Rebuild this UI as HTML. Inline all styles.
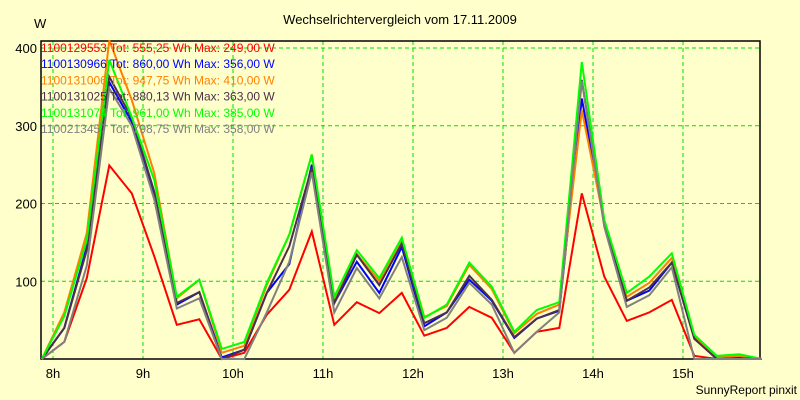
<!DOCTYPE html>
<html><head><meta charset="utf-8"><style>
html,body{margin:0;padding:0;background:#ffffcc;}
svg{display:block;font-family:"Liberation Sans",sans-serif;}
</style></head><body>
<svg id="chart" width="800" height="400" viewBox="0 0 800 400">
<rect x="0" y="0" width="800" height="400" fill="#ffffcc"/>
<text x="400" y="24" text-anchor="middle" font-size="13">Wechselrichtervergleich vom 17.11.2009</text>
<text x="34" y="28" font-size="13">W</text>
<text x="797" y="394" text-anchor="end" font-size="12">SunnyReport pinxit</text>
<g id="grid"></g><g id="axes"></g><g id="series"></g><g id="legend"></g>
</svg>
<script>
const yTicks=[100,200,300,400];
const hourTicks=[8,9,10,11,12,13,14,15];
const startHour=7.875, stepHour=0.25;
const names=["1100129553 Tot: 555,25 Wh Max: 249,00 W","1100130966 Tot: 860,00 Wh Max: 356,00 W","1100131006 Tot: 947,75 Wh Max: 410,00 W","1100131025 Tot: 880,13 Wh Max: 363,00 W","1100131074 Tot: 961,00 Wh Max: 385,00 W","1100213457 Tot: 798,75 Wh Max: 358,00 W"];
const colors=["#ff0000","#0000ff","#ff8000","#4a3048","#00ff00","#808080"];
const redVals=[0,22,104,249,213,132,44,51,0,8,57,89,164,44,73,59,85,30,40,67,53,8,35,40,213,106,49,60,76,4,0,0,0];
const blueVals=[0,40,144,356,305,210,70,86,2,12,85,122,250,72,125,85,144,42,60,102,75,27,52,62,335,175,75,88,124,27,0,2,0];
const orangeVals=[0,60,162,410,333,239,78,102,8,17,95,160,263,75,135,100,155,54,68,121,90,33,58,70,320,176,80,98,130,30,2,4,0];
const darkVals=[0,40,140,363,310,215,72,86,0,12,85,145,246,72,134,95,149,46,60,107,76,28,52,63,359,172,75,92,124,26,0,1,0];
const greenVals=[0,55,153,385,311,230,80,102,13,22,98,160,263,80,140,104,156,53,70,124,93,35,63,73,382,179,85,106,136,31,4,6,0];
const grayVals=[0,22,120,348,300,205,65,78,0,0,60,125,240,60,117,78,131,37,53,98,70,8,35,60,358,170,67,82,118,0,0,0,0];
const seriesVals=[redVals,blueVals,orangeVals,darkVals,greenVals,grayVals];
const NS="http://www.w3.org/2000/svg";
const X0=41,X1=760,Y0=359,YTOP=41;
function xOfHour(h){return 53+(h-8)*90;}
function xOfIndex(i){return xOfHour(startHour+i*stepHour);}
function yOf(v){return Y0-v*0.7775;}
function mk(tag,attrs,parent){const e=document.createElementNS(NS,tag);for(const k in attrs)e.setAttribute(k,attrs[k]);parent.appendChild(e);return e;}
const grid=document.getElementById('grid'),axes=document.getElementById('axes'),ser=document.getElementById('series'),leg=document.getElementById('legend');
yTicks.forEach(v=>{
 const l=mk('line',{x1:X0,x2:X1,y1:yOf(v),y2:yOf(v),stroke:'#00e000','stroke-width':1,'stroke-dasharray':'4,3'},grid);
 
 
 const t=mk('text',{x:37,y:yOf(v)+5,'text-anchor':'end','font-size':13},axes);
 t.textContent=v;
 
 
});
hourTicks.forEach(h=>{
 const l=mk('line',{x1:xOfHour(h),x2:xOfHour(h),y1:YTOP,y2:Y0,stroke:'#00e000','stroke-width':1,'stroke-dasharray':'4,3'},grid);
 
 
 const t=mk('text',{x:xOfHour(h),y:378,'text-anchor':'middle','font-size':13},axes);
 t.textContent=h+'h';
 
 
});
const box=mk('rect',{x:X0,y:YTOP,width:X1-X0,height:Y0-YTOP,fill:'none',stroke:'#000','stroke-width':1.5},axes);


seriesVals.forEach((vals,s)=>{
 const pts=vals.map((v,i)=>xOfIndex(i).toFixed(1)+','+yOf(v).toFixed(1)).join(' ');
 const p=mk('polyline',{points:pts,fill:'none',stroke:colors[s],'stroke-width':2,'stroke-linejoin':'miter'},ser);
 
 
});
names.forEach((n,s)=>{
 const t=mk('text',{x:41,y:52+s*16.2,'font-size':12,fill:colors[s]},leg);
 t.textContent=n;
 
 
});
</script>
</body></html>
